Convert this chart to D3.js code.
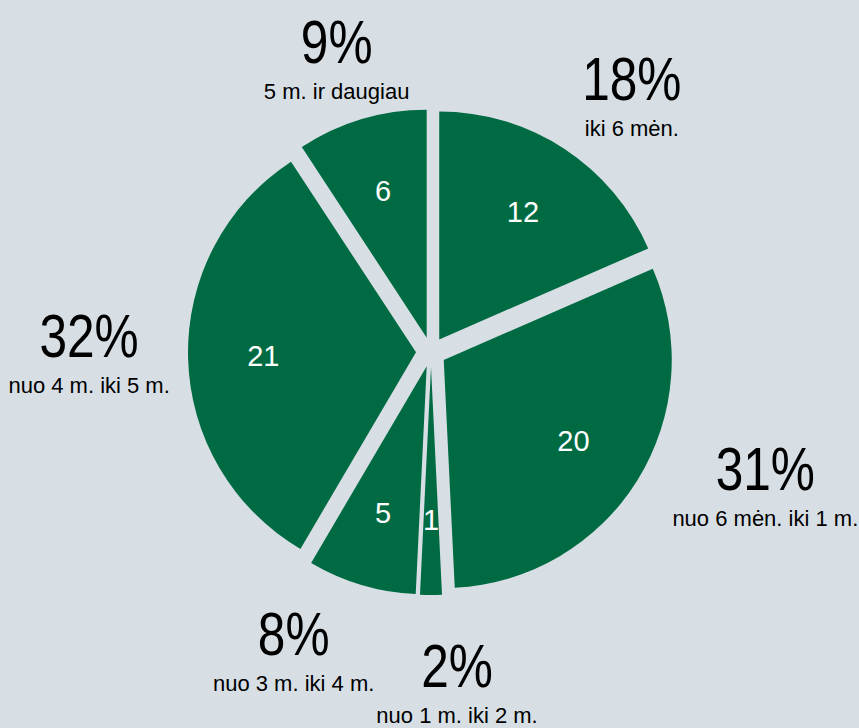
<!DOCTYPE html>
<html>
<head>
<meta charset="utf-8">
<script src="https://d3js.org/d3.v7.min.js"></script>
<style>
body {margin: 0; background: #d7dfe5;}
svg {display: block;}
.slice {fill: #006b42;}
.val {fill: white; font-family: "Liberation Sans", Arial, sans-serif; font-size: 29px; text-anchor: middle;}
.pct {fill: black; font-family: "Liberation Sans", Arial, sans-serif; font-size: 62px; text-anchor: middle;}
.sub {fill: black; font-family: "Liberation Sans", Arial, sans-serif; font-size: 22px; text-anchor: middle;}
</style>
</head>
<body>
<svg width=859 height=728></svg>
<script>
// periods, clockwise from 12 o'clock
var categories = ["iki 6 mėn.", "nuo 6 mėn. iki 1 m.", "nuo 1 m. iki 2 m.",
    "nuo 3 m. iki 4 m.", "nuo 4 m. iki 5 m.", "5 m. ir daugiau"];
var values = [12, 20, 1, 5, 21, 6];

var svg = d3.select("svg"),
    width = +svg.attr("width"),
    height = +svg.attr("height");

var cx = 431, cy = 352, r = 228, explode = 15;

// outer label tweaks (pixels), like hand-moved labels
var nudge = [[20, 24], [54, -36], [26, 5], [-43, -13], [-12, -3], [0, 27]];

var total = d3.sum(values);
var data = values.map(function(v, i) { return {cat: categories[i], value: v, i: i}; });

var pie = d3.pie().sort(null).value(function(d) { return d.value; });
var arc = d3.arc().innerRadius(0).outerRadius(r);
var arcs = pie(data);

function mid(d) { return (d.startAngle + d.endAngle) / 2; }
function polar(a, dist) { return [Math.sin(a) * dist, -Math.cos(a) * dist]; }

var g = svg.append("g").attr("transform", "translate(" + cx + "," + cy + ")");

var sl = g.selectAll(".s").data(arcs).enter().append("g")
    .attr("transform", function(d) {
        var p = polar(mid(d), explode);
        return "translate(" + p[0] + "," + p[1] + ")";
    });

sl.append("path").attr("class", "slice").attr("d", arc);

sl.append("text").attr("class", "val")
    .attr("x", function(d) { return polar(mid(d), r * 0.67)[0]; })
    .attr("y", function(d) { return polar(mid(d), r * 0.67)[1] + 10; })
    .text(function(d) { return d.data.value; });

var lab = g.selectAll(".lab").data(arcs).enter().append("g")
    .attr("transform", function(d, i) {
        var p = polar(mid(d), 330);
        return "translate(" + (p[0] + nudge[i][0]) + "," + (p[1] + nudge[i][1]) + ")";
    });

lab.append("text").attr("class", "pct")
    .attr("transform", "scale(0.8,1)")
    .text(function(d) { return Math.round(d.data.value / total * 100) + "%"; });

lab.append("text").attr("class", "sub")
    .attr("y", 36)
    .text(function(d) { return d.data.cat; });
</script>
</body>
</html>
